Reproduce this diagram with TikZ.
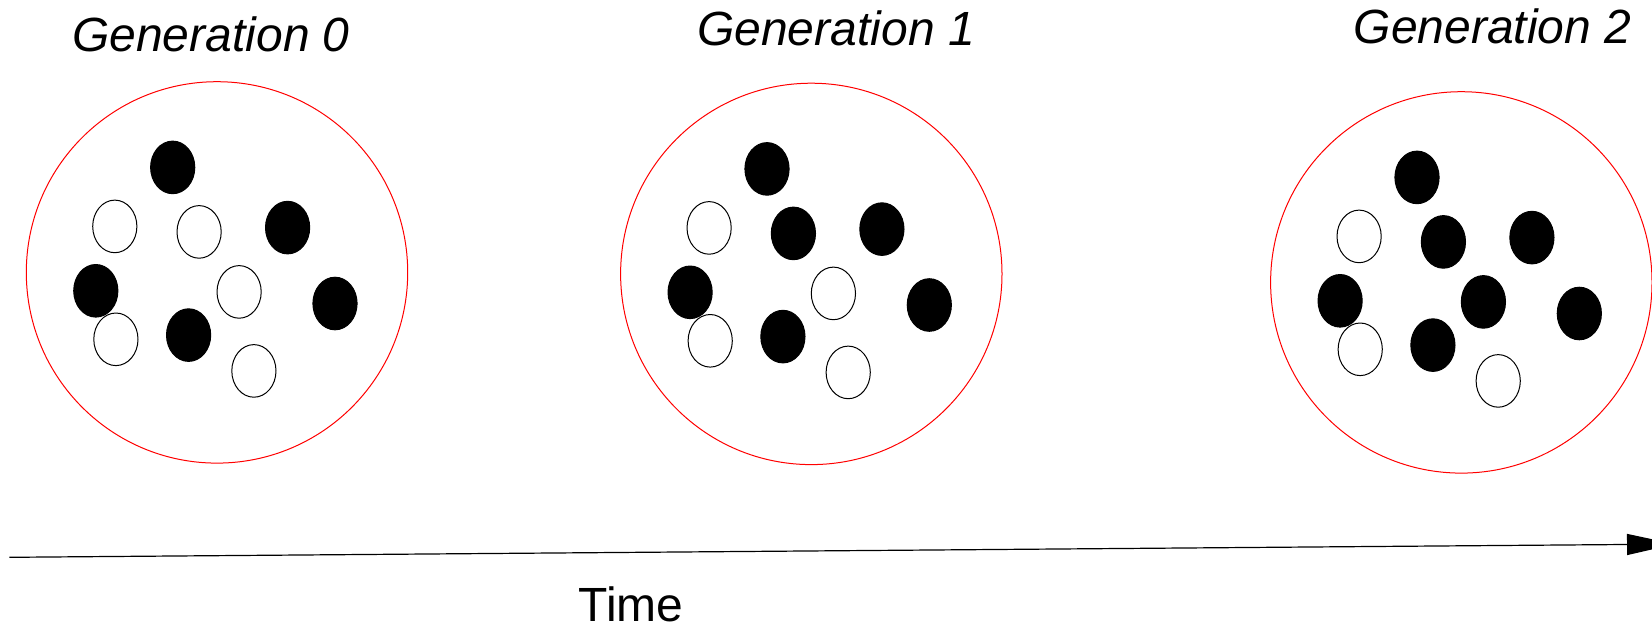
\documentclass[tikz,border=0pt]{standalone}
\usepackage{fontspec}
\setmainfont{Liberation Sans}
\usetikzlibrary{positioning,calc,shapes.geometric,arrows.meta}
\tikzset{popn/.style={circle, draw=red, line width=0.5pt, minimum size=190.7pt, inner sep=0pt}}
\tikzset{dot/.style={ellipse, draw=black, line width=0.5pt, minimum width=22.1pt, minimum height=26.3pt, inner sep=0pt}}
\tikzset{genlbl/.style={anchor=base, inner sep=0pt, font=\fontsize{24}{28}\selectfont\itshape}}
\tikzset{timelbl/.style={anchor=base, inner sep=0pt, font=\fontsize{24}{28}\selectfont}}
\tikzset{timearr/.style={draw, line width=0.6pt, -{Triangle[length=24pt, width=10.5pt]}}}

\begin{document}
\begin{tikzpicture}[x=0.5pt, y=-0.5pt]
	\useasboundingbox (0,0) rectangle (1652,627);
	% populations
	\node[popn] (g0) at (217,272.4) {};
	\node[popn] (g1) at (811.3,273.9) {};
	\node[popn] (g2) at (1461.3,282.4) {};
	\node[genlbl] (lbl0) at (211,51.7) {Generation 0};
	\node[genlbl] (lbl1) at (836,45.7) {Generation 1};
	\node[genlbl] (lbl2) at (1492.5,43.3) {Generation 2};
	% individuals: offset / colour in gen 0, 1, 2
	\foreach \dx/\dy/\fa/\fb/\fc [count=\i] in {
			-44.3/-105/black/black/black,
			-102.2/-46/white/white/white,
			-17.9/-40.5/white/black/black,
			70.6/-44.8/black/black/black,
			-121.2/18.4/black/black/black,
			22.1/19.5/white/white/black,
			118/31.1/black/black/black,
			-101.1/66.9/white/white/white,
			-28.4/62.7/black/black/black,
			36.9/98.5/white/white/white} {
		\node[dot, fill=\fa] (g0-\i) at ($(g0)+(\dx,\dy)$) {};
		\node[dot, fill=\fb] (g1-\i) at ($(g1)+(\dx,\dy)$) {};
		\node[dot, fill=\fc] (g2-\i) at ($(g2)+(\dx,\dy)$) {};
	}
	% time axis
	\coordinate (t0) at (9.3,557.3);
	\coordinate (t1) at (1675,544.1);
	\draw[timearr] (t0) -- (t1);
	\node[timelbl] (time) at (631,621.7) {Time};
\end{tikzpicture}
\end{document}
